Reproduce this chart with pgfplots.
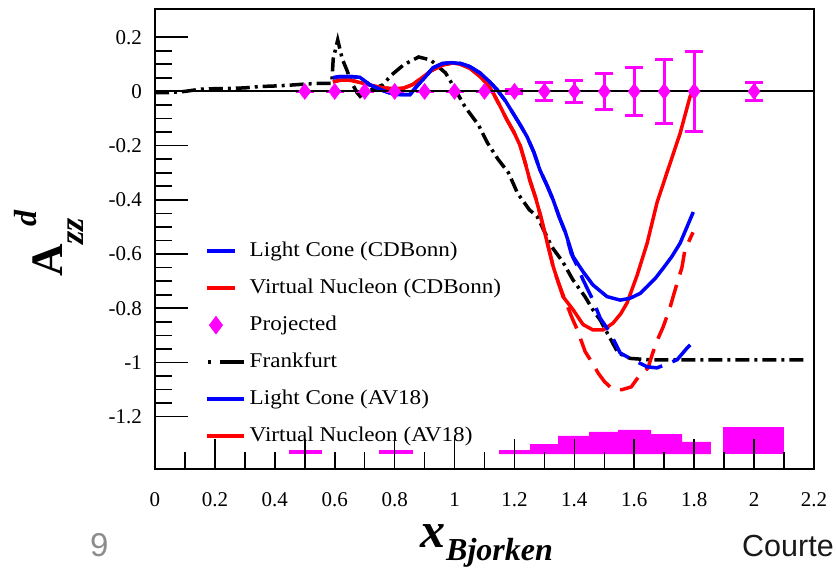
\documentclass[border=0pt]{standalone}
\usepackage{pgfplots}
\pgfplotsset{compat=1.18}
\usepackage{fontspec}
\setmainfont{Liberation Serif}
\newfontfamily\legfont{Liberation Serif}[FakeStretch=1.1]
\newfontfamily\sansf{Liberation Sans}
\definecolor{mag}{RGB}{255,0,255}
\definecolor{bl}{RGB}{0,0,255}
\definecolor{rd}{RGB}{255,0,0}
\begin{document}
\begin{tikzpicture}
\useasboundingbox (-155bp,-99bp) rectangle (681bp,469bp);
\begin{axis}[
  at={(0,0)}, anchor=south west,
  scale only axis, width=659bp, height=460bp,
  xmin=0, xmax=2.2, ymin=-1.393, ymax=0.304,
  axis line style={line width=1.6bp},
  tick pos=left, tick align=inside,
  xtick={0,0.2,0.4,0.6,0.8,1,1.2,1.4,1.6,1.8,2,2.2},
  xticklabels={0,0.2,0.4,0.6,0.8,1,1.2,1.4,1.6,1.8,2,2.2},
  xtick style={draw=none},
  ytick={-1.2,-1,-0.8,-0.6,-0.4,-0.2,0,0.2},
  yticklabels={-1.2,-1,-0.8,-0.6,-0.4,-0.2,0,0.2},
  minor y tick num=3,
  major tick length=33bp, minor tick length=17bp,
  ytick style={line width=1.6bp, black},
  tick label style={font=\fontsize{21bp}{25bp}\selectfont},
  xticklabel style={anchor=north, inner sep=0pt, yshift=-23bp},
  yticklabel style={anchor=east, inner sep=0pt, xshift=-13bp},
  legend style={draw=none, fill=none, at={(0.0759,0.4935)}, anchor=north west,
    inner sep=0pt, row sep=19bp, column sep=4bp,
    font=\legfont\fontsize{21bp}{25bp}\selectfont,
    nodes={inner sep=0pt, text height=14bp, text depth=4bp}},
  legend cell align=left,
]
% legend entries
\addlegendimage{legend image code/.code={\draw[bl, line width=3.5bp] (0bp,0bp) -- (28bp,0bp); \path (37bp,0bp);}}
\addlegendentry{Light Cone (CDBonn)}
\addlegendimage{legend image code/.code={\draw[rd, line width=3.5bp] (0bp,0bp) -- (28bp,0bp); \path (37bp,0bp);}}
\addlegendentry{Virtual Nucleon (CDBonn)}
\addlegendimage{legend image code/.code={\path (0bp,0bp) (37bp,0bp); \draw plot[mark=diamond*, mark size=9bp, mark options={draw=mag, fill=mag}] coordinates {(9bp,0bp)};}}
\addlegendentry{Projected}
\addlegendimage{legend image code/.code={\draw[black, line width=3.5bp] (1bp,0bp) -- (4bp,0bp); \draw[black, line width=3.5bp] (13bp,0bp) -- (37bp,0bp);}}
\addlegendentry{Frankfurt}
\addlegendimage{legend image code/.code={\draw[bl, line width=3.5bp] (0bp,0bp) -- (37bp,0bp);}}
\addlegendentry{Light Cone (AV18)}
\addlegendimage{legend image code/.code={\draw[rd, line width=3.5bp] (0bp,0bp) -- (37bp,0bp);}}
\addlegendentry{Virtual Nucleon (AV18)}

% bottom histogram
\addplot[fill=mag, draw=none, forget plot] coordinates {(0.447,-1.338) (0.447,-1.323) (0.558,-1.323) (0.558,-1.338)};
\addplot[fill=mag, draw=none, forget plot] coordinates {(0.748,-1.338) (0.748,-1.323) (0.861,-1.323) (0.861,-1.338)};
\addplot[fill=mag, draw=none, forget plot] coordinates {(1.149,-1.338) (1.149,-1.323) (1.252,-1.323) (1.252,-1.301) (1.346,-1.301) (1.346,-1.271) (1.449,-1.271) (1.449,-1.256) (1.546,-1.256) (1.546,-1.249) (1.656,-1.249) (1.656,-1.264) (1.760,-1.264) (1.760,-1.293) (1.856,-1.293) (1.856,-1.338)};
\addplot[fill=mag, draw=none, forget plot] coordinates {(1.897,-1.338) (1.897,-1.238) (2.100,-1.238) (2.100,-1.338)};

% x ticks (short every 0.1, long at selected positions)
\addplot[black, line width=1.6bp, forget plot, unbounded coords=jump] coordinates {
(0.1,-1.393) (0.1,-1.330) (0.1,nan) (0.2,-1.393) (0.2,-1.282) (0.2,nan)
(0.3,-1.393) (0.3,-1.330) (0.3,nan) (0.4,-1.393) (0.4,-1.330) (0.4,nan)
(0.5,-1.393) (0.5,-1.282) (0.5,nan) (0.6,-1.393) (0.6,-1.330) (0.6,nan)
(0.7,-1.393) (0.7,-1.330) (0.7,nan) (0.8,-1.393) (0.8,-1.282) (0.8,nan)
(0.9,-1.393) (0.9,-1.330) (0.9,nan) (1.0,-1.393) (1.0,-1.282) (1.0,nan)
(1.1,-1.393) (1.1,-1.330) (1.1,nan) (1.2,-1.393) (1.2,-1.282) (1.2,nan)
(1.3,-1.393) (1.3,-1.330) (1.3,nan) (1.4,-1.393) (1.4,-1.282) (1.4,nan)
(1.5,-1.393) (1.5,-1.330) (1.5,nan) (1.6,-1.393) (1.6,-1.282) (1.6,nan)
(1.7,-1.393) (1.7,-1.330) (1.7,nan) (1.8,-1.393) (1.8,-1.282) (1.8,nan)
(1.9,-1.393) (1.9,-1.330) (1.9,nan) (2.0,-1.393) (2.0,-1.282) (2.0,nan)
(2.1,-1.393) (2.1,-1.330)};

% Frankfurt
\addplot[black, line width=3.5bp, dash pattern=on 14bp off 5bp on 3bp off 5bp, forget plot] coordinates {
(0,-0.005) (0.05,-0.004) (0.1,0.0) (0.15,0.008) (0.2,0.01) (0.25,0.011) (0.3,0.013) (0.35,0.018) (0.4,0.02) (0.45,0.023) (0.5,0.027) (0.55,0.03) (0.59,0.03) (0.595,0.12) (0.61,0.19) (0.625,0.12) (0.64,0.08) (0.655,0.035) (0.675,-0.005) (0.69,-0.025) (0.71,0.0) (0.76,0.024) (0.79,0.061) (0.83,0.098) (0.88,0.127) (0.92,0.116) (0.97,0.068) (0.99,0.031) (1.035,-0.057) (1.08,-0.124) (1.11,-0.19) (1.145,-0.25) (1.18,-0.30) (1.21,-0.375) (1.25,-0.437) (1.275,-0.46) (1.325,-0.574) (1.362,-0.63) (1.395,-0.695) (1.436,-0.758) (1.462,-0.806) (1.486,-0.843) (1.546,-0.965) (1.586,-0.985) (1.65,-0.99) (2.18,-0.99)};

% Virtual Nucleon (AV18) red solid
\addplot[rd, line width=3.5bp, forget plot] coordinates {
(0.594,0.035) (0.62,0.042) (0.651,0.042) (0.694,0.03) (0.73,0.02) (0.761,0.013) (0.80,0.01) (0.83,0.012) (0.86,0.025) (0.885,0.045) (0.92,0.075) (0.962,0.098) (0.995,0.105) (1.02,0.1) (1.052,0.085) (1.085,0.055) (1.11,0.025) (1.129,-0.006) (1.15,-0.05) (1.175,-0.105) (1.198,-0.15) (1.219,-0.20) (1.235,-0.26) (1.252,-0.33) (1.27,-0.39) (1.285,-0.45) (1.31,-0.56) (1.329,-0.645) (1.345,-0.70) (1.362,-0.757) (1.396,-0.806) (1.429,-0.86) (1.462,-0.88) (1.496,-0.88) (1.529,-0.855) (1.555,-0.82) (1.576,-0.78) (1.609,-0.68) (1.643,-0.56) (1.676,-0.41) (1.709,-0.30) (1.753,-0.155) (1.786,-0.02) (1.795,0.0)};

% Virtual Nucleon (CDBonn) red dashed
\addplot[rd, line width=3.5bp, dash pattern=on 23bp off 11bp, forget plot] coordinates {
(0.594,0.035) (0.62,0.042) (0.651,0.042) (0.694,0.03) (0.73,0.02) (0.761,0.013) (0.80,0.01) (0.83,0.012) (0.86,0.025) (0.885,0.045) (0.92,0.075) (0.962,0.098) (0.995,0.105) (1.02,0.1) (1.052,0.085) (1.085,0.055) (1.11,0.025) (1.129,-0.006) (1.15,-0.05) (1.175,-0.105) (1.198,-0.15) (1.219,-0.20) (1.235,-0.26) (1.252,-0.33) (1.27,-0.39) (1.285,-0.45) (1.31,-0.56) (1.329,-0.645) (1.345,-0.70) (1.362,-0.75) (1.392,-0.835) (1.41,-0.88) (1.436,-0.96) (1.459,-1.0) (1.48,-1.04) (1.50,-1.07) (1.529,-1.10) (1.56,-1.10) (1.59,-1.09) (1.616,-1.05) (1.646,-1.02) (1.66,-0.97) (1.676,-0.92) (1.696,-0.87) (1.709,-0.83) (1.72,-0.795) (1.729,-0.76) (1.745,-0.70) (1.759,-0.65) (1.769,-0.585) (1.796,-0.52)};

% Light Cone (AV18) blue solid
\addplot[bl, line width=3.5bp, forget plot] coordinates {
(0.594,0.05) (0.611,0.054) (0.65,0.055) (0.684,0.052) (0.718,0.024) (0.761,0.003) (0.80,-0.012) (0.851,-0.012) (0.875,0.02) (0.90,0.05) (0.928,0.087) (0.96,0.103) (0.99,0.106) (1.02,0.103) (1.05,0.092) (1.085,0.068) (1.115,0.038) (1.142,0.006) (1.17,-0.035) (1.195,-0.08) (1.22,-0.125) (1.242,-0.167) (1.265,-0.225) (1.285,-0.29) (1.31,-0.35) (1.329,-0.40) (1.35,-0.465) (1.37,-0.52) (1.396,-0.61) (1.429,-0.665) (1.462,-0.714) (1.509,-0.757) (1.553,-0.77) (1.586,-0.763) (1.62,-0.745) (1.643,-0.72) (1.67,-0.69) (1.696,-0.653) (1.725,-0.61) (1.753,-0.56) (1.797,-0.445)};

% Light Cone (CDBonn) blue dashed
\addplot[bl, line width=3.5bp, dash pattern=on 25bp off 11bp, forget plot] coordinates {
(0.594,0.05) (0.611,0.054) (0.65,0.055) (0.684,0.052) (0.718,0.024) (0.761,0.003) (0.80,-0.012) (0.851,-0.012) (0.875,0.02) (0.90,0.05) (0.928,0.087) (0.96,0.103) (0.99,0.106) (1.02,0.103) (1.05,0.092) (1.085,0.068) (1.115,0.038) (1.142,0.006) (1.17,-0.035) (1.195,-0.08) (1.22,-0.125) (1.242,-0.167) (1.265,-0.225) (1.285,-0.29) (1.31,-0.35) (1.329,-0.40) (1.35,-0.465) (1.37,-0.52) (1.39,-0.60) (1.41,-0.645) (1.429,-0.695) (1.462,-0.77) (1.486,-0.836) (1.519,-0.89) (1.553,-0.965) (1.586,-0.985) (1.643,-1.016) (1.676,-1.02) (1.71,-1.005) (1.743,-0.99) (1.776,-0.947) (1.803,-0.917)};

% Projected
\addplot[mag, only marks, mark=diamond*, mark size=8bp, mark options={fill=mag, draw=mag, line width=0.5bp, solid},
  error bars/.cd, y dir=both, y explicit,
  error bar style={line width=3bp, mag, solid},
  error mark options={rotate=90, mark size=9bp, line width=3bp, mag}] coordinates {
(0.5,0) +- (0,0) (0.6,0) +- (0,0) (0.7,0) +- (0,0) (0.8,0) +- (0,0) (0.9,0) +- (0,0) (1.0,0) +- (0,0) (1.1,0) +- (0,0)
(1.2,0) +- (0,0.006) (1.3,0) +- (0,0.033) (1.4,0) +- (0,0.04) (1.5,0) +- (0,0.066) (1.6,0) +- (0,0.089) (1.7,0) +- (0,0.118) (1.8,0) +- (0,0.148) (2.0,0) +- (0,0.033)};

% zero line
\addplot[black, line width=2bp, forget plot] coordinates {(0,0) (2.2,0)};
\end{axis}
% axis titles and page text
\node[anchor=base west, inner sep=0pt] at (265bp,-78bp) {\fontsize{50bp}{55bp}\selectfont\bfseries\itshape x};
\node[anchor=base west, inner sep=0pt] at (291bp,-91bp) {\fontsize{32bp}{36bp}\selectfont\bfseries\itshape Bjorken};
\node[anchor=base west, inner sep=0pt, rotate=90] at (-92bp,192bp) {\fontsize{45bp}{50bp}\selectfont\bfseries A\raisebox{-21bp}{\fontsize{34bp}{40bp}\selectfont\bfseries\itshape zz}\hspace{-9bp}\raisebox{26bp}{\fontsize{32bp}{36bp}\selectfont\bfseries\itshape d}};
\node[anchor=base west, inner sep=0pt, text=black!45] at (-65bp,-87bp) {\sansf\fontsize{33bp}{38bp}\selectfont 9};
\node[anchor=base west, inner sep=0pt, text=black!90] at (587bp,-87bp) {\sansf\fontsize{30.5bp}{36bp}\selectfont Courte};
\end{tikzpicture}
\end{document}
